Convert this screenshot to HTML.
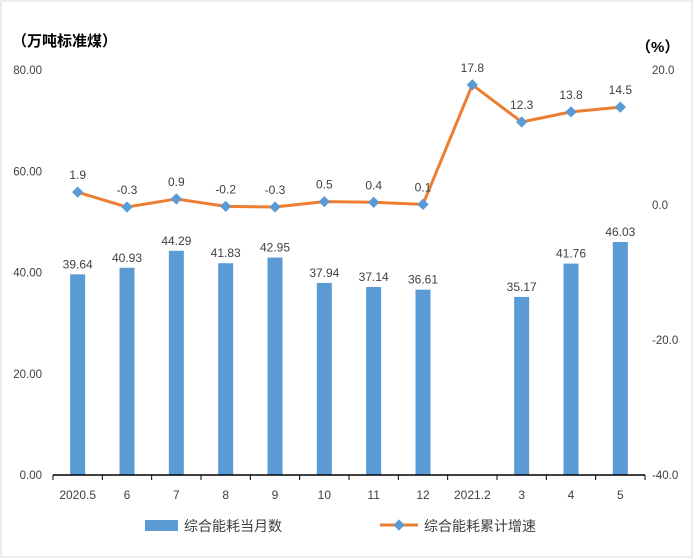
<!DOCTYPE html>
<html><head><meta charset="utf-8"><style>
body{margin:0;background:#fff;}
svg{display:block;font-family:"Liberation Sans","Noto Sans CJK SC",sans-serif;}
</style></head><body>
<svg id="chart" width="693" height="558">
<rect x="1" y="1" width="691" height="556" fill="#fff" stroke="#d9d9d9"/>
<text x="12" y="46" font-size="15" font-weight="bold" fill="#000">（万吨标准煤）</text>
<text x="636" y="52" font-size="15" font-weight="bold" fill="#000">（%）</text>
<g id="g"></g>
<g>
<rect x="145" y="520" width="33" height="11" fill="#5B9BD5"/>
<text x="184" y="531" font-size="14" fill="#404040">综合能耗当月数</text>
<line x1="380" y1="525" x2="418" y2="525" stroke="#ED7D31" stroke-width="3"/>
<rect x="395" y="521" width="8" height="8" fill="#5B9BD5" transform="rotate(45 399 525)"/>
<text x="424" y="531" font-size="14" fill="#404040">综合能耗累计增速</text>
</g>
</svg>
<script>
const categories=["2020.5","6","7","8","9","10","11","12","2021.2","3","4","5"];
const barValues=[39.64,40.93,44.29,41.83,42.95,37.94,37.14,36.61,null,35.17,41.76,46.03];
const lineValues=[1.9,-0.3,0.9,-0.2,-0.3,0.5,0.4,0.1,17.8,12.3,13.8,14.5];
const leftTicks=[0,20,40,60,80];
const rightTicks=[-40,-20,0,20];
const NS="http://www.w3.org/2000/svg";
const g=document.getElementById('g');
const X0=53,X1=645,Y0=475,Y1=70;
const bw=(X1-X0)/categories.length;
const xc=i=>X0+bw*(i+0.5);
const yL=v=>Y0-(v/80)*(Y0-Y1);
const yR=v=>Y0-((v+40)/60)*(Y0-Y1);
function mk(t,a){const e=document.createElementNS(NS,t);for(const k in a)e.setAttribute(k,a[k]);g.appendChild(e);return e;}
leftTicks.forEach(v=>{const t=mk('text',{x:42,y:yL(v)+4,'text-anchor':'end','font-size':11.5,fill:'#404040'});t.textContent=v.toFixed(2);

});
rightTicks.forEach(v=>{const t=mk('text',{x:652,y:yR(v)+4,'font-size':11.5,fill:'#404040'});t.textContent=v.toFixed(1);

});
barValues.forEach((v,i)=>{if(v==null)return;
const r=mk('rect',{x:xc(i)-7.5,y:yL(v),width:15,height:Y0-yL(v),fill:'#5B9BD5'});


const t=mk('text',{x:xc(i),y:yL(v)-6,'text-anchor':'middle','font-size':12,fill:'#404040'});t.textContent=v.toFixed(2);

});
const ax=mk('line',{x1:X0,y1:Y0,x2:X1,y2:Y0,stroke:'#000','stroke-width':1.5});


for(let i=0;i<=categories.length;i++){const tk=mk('line',{x1:X0+bw*i,y1:Y0,x2:X0+bw*i,y2:Y0+5,stroke:'#000'});

}
categories.forEach((c,i)=>{const t=mk('text',{x:xc(i),y:Y0+24,'text-anchor':'middle','font-size':12,fill:'#404040'});t.textContent=c;

});
const pl=mk('polyline',{points:lineValues.map((v,i)=>xc(i)+','+yR(v)).join(' '),fill:'none',stroke:'#ED7D31','stroke-width':3,'stroke-linejoin':'round'});


lineValues.forEach((v,i)=>{const x=xc(i),y=yR(v);
const m=mk('rect',{x:x-4,y:y-4,width:8,height:8,fill:'#5B9BD5',transform:`rotate(45 ${x} ${y})`});


const t=mk('text',{x:x,y:y-13,'text-anchor':'middle','font-size':12,fill:'#404040'});t.textContent=v.toFixed(1);

});
</script>
</body></html>
